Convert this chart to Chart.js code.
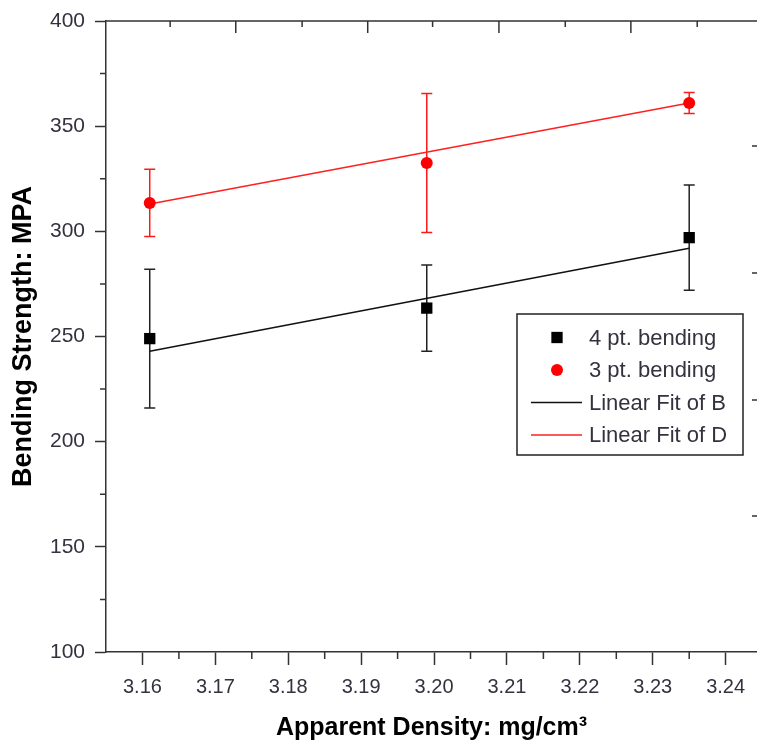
<!DOCTYPE html>
<html>
<head>
<meta charset="utf-8">
<script src="https://cdn.jsdelivr.net/npm/chart.js@4.4.1/dist/chart.umd.min.js"></script>
<style>
  html, body { margin: 0; padding: 0; background: #fff; }
  #wrap { width: 757px; height: 755px; }
</style>
</head>
<body>
<div id="wrap"><canvas id="chart" width="757" height="755"></canvas></div>
<script>
var densities = [3.161, 3.199, 3.235];
var strength4pt = [249, 263.5, 297];
var error4pt = [33, 20.5, 25];
var strength3pt = [313.5, 332.5, 361];
var error3pt = [16, 33, 5];

// ends of the two fit lines
var fitX = [3.161, 3.235];
var fitB = [243, 292];
var fitD = [313, 361];

var xTicks = [3.16, 3.17, 3.18, 3.19, 3.20, 3.21, 3.22, 3.23, 3.24];
var xMinor = [3.155, 3.165, 3.175, 3.185, 3.195, 3.205, 3.215, 3.225, 3.235];
var yTicks = [100, 150, 200, 250, 300, 350, 400];
var yMinor = [125, 175, 225, 275, 325, 375];
// stray ticks on the top and right frame of the original
var topMajor = [3.1728, 3.1909, 3.2089, 3.2270];
var topMinor = [3.1638, 3.1819, 3.1998, 3.2180, 3.2361];
var rightTicks = [340.6, 280.2, 219.8, 164.7];

var axisColor = '#333';
var labelColor = '#35323f';
var fontFam = '"Liberation Sans", Arial, sans-serif';

function xy(xs, ys) {
  return xs.map(function (x, i) { return {x: x, y: ys[i]}; });
}

var extras = {
  id: 'extras',
  beforeDatasetsDraw: function (chart) {
    var ctx = chart.ctx, x = chart.scales.x, y = chart.scales.y;
    var sets = [[strength4pt, error4pt, '#222'], [strength3pt, error3pt, '#ff1a1a']];
    ctx.save();
    ctx.lineWidth = 1.5;
    sets.forEach(function (s) {
      ctx.strokeStyle = s[2];
      densities.forEach(function (d, i) {
        var px = x.getPixelForValue(d);
        var top = y.getPixelForValue(s[0][i] + s[1][i]);
        var bot = y.getPixelForValue(s[0][i] - s[1][i]);
        ctx.beginPath();
        ctx.moveTo(px, top); ctx.lineTo(px, bot);
        ctx.moveTo(px - 5.5, top); ctx.lineTo(px + 5.5, top);
        ctx.moveTo(px - 5.5, bot); ctx.lineTo(px + 5.5, bot);
        ctx.stroke();
      });
    });
    ctx.restore();
  },
  afterDraw: function (chart) {
    var ctx = chart.ctx, a = chart.chartArea, x = chart.scales.x, y = chart.scales.y;
    ctx.save();
    ctx.strokeStyle = axisColor;
    ctx.lineWidth = 1.5;
    ctx.beginPath();
    // top frame
    ctx.moveTo(a.left, a.top); ctx.lineTo(a.right, a.top);
    xMinor.forEach(function (v) {
      var px = x.getPixelForValue(v);
      if (px >= a.left + 1 && px <= a.right) { ctx.moveTo(px, a.bottom); ctx.lineTo(px, a.bottom + 7); }
    });
    yMinor.forEach(function (v) {
      var py = y.getPixelForValue(v);
      ctx.moveTo(a.left, py); ctx.lineTo(a.left - 6, py);
    });
    topMajor.forEach(function (v) {
      var px = x.getPixelForValue(v);
      ctx.moveTo(px, a.top); ctx.lineTo(px, a.top + 12);
    });
    topMinor.forEach(function (v) {
      var px = x.getPixelForValue(v);
      ctx.moveTo(px, a.top); ctx.lineTo(px, a.top + 6);
    });
    rightTicks.forEach(function (v) {
      var py = y.getPixelForValue(v);
      ctx.moveTo(a.right, py); ctx.lineTo(a.right - 5, py);
    });
    ctx.stroke();

    // legend box inside the plot
    var lx = a.left + 411, ly = a.top + 293, lw = 226, lh = 141;
    ctx.strokeStyle = '#222';
    ctx.strokeRect(lx, ly, lw, lh);
    ctx.font = '22px ' + fontFam;
    ctx.textBaseline = 'middle';
    ctx.textAlign = 'left';
    chart.data.datasets.forEach(function (ds, i) {
      var ry = ly + 23.5 + i * 32.5;
      if (ds.showLine === false) {
        ctx.fillStyle = ds.backgroundColor;
        ctx.strokeStyle = ds.backgroundColor;
        Chart.helpers.drawPoint(ctx, {
          pointStyle: ds.pointStyle, radius: ds.pointRadius, borderWidth: 0
        }, lx + 40, ry);
      } else {
        ctx.strokeStyle = ds.borderColor;
        ctx.lineWidth = 1.5;
        ctx.beginPath();
        ctx.moveTo(lx + 14, ry); ctx.lineTo(lx + 65, ry);
        ctx.stroke();
      }
      ctx.fillStyle = labelColor;
      ctx.fillText(ds.label, lx + 72, ry + 1);
    });
    ctx.restore();
  }
};

new Chart(document.getElementById('chart'), {
  type: 'scatter',
  data: {
    datasets: [{
      label: '4 pt. bending',
      data: xy(densities, strength4pt),
      showLine: false,
      pointStyle: 'rect',
      pointRadius: 8,
      backgroundColor: '#000',
      borderColor: '#000',
      borderWidth: 0
    }, {
      label: '3 pt. bending',
      data: xy(densities, strength3pt),
      showLine: false,
      pointStyle: 'circle',
      pointRadius: 6,
      backgroundColor: '#ff0000',
      borderColor: '#ff0000',
      borderWidth: 0
    }, {
      label: 'Linear Fit of B',
      data: xy(fitX, fitB),
      showLine: true,
      pointRadius: 0,
      borderColor: '#111',
      borderWidth: 1.5
    }, {
      label: 'Linear Fit of D',
      data: xy(fitX, fitD),
      showLine: true,
      pointRadius: 0,
      borderColor: '#ff2020',
      borderWidth: 1.5
    }]
  },
  options: {
    responsive: false,
    animation: false,
    devicePixelRatio: 1,
    layout: { autoPadding: false, padding: { top: 21, right: 0, bottom: 0, left: 0 } },
    plugins: {
      legend: { display: false },
      tooltip: { enabled: false }
    },
    scales: {
      x: {
        type: 'linear',
        position: 'bottom',
        min: 3.155,
        max: 3.2443,
        afterBuildTicks: function (s) { s.ticks = xTicks.map(function (v) { return {value: v}; }); },
        afterFit: function (s) { s.height = 103; s.paddingLeft = 0; s.paddingRight = 0; },
        ticks: {
          callback: function (v) { return v.toFixed(2); },
          font: { family: fontFam, size: 20 },
          color: labelColor,
          padding: 10,
          maxRotation: 0
        },
        grid: {
          drawOnChartArea: false,
          tickLength: 13,
          tickWidth: 1.5,
          tickColor: axisColor
        },
        border: { display: true, color: axisColor, width: 1.5 },
        title: {
          display: true,
          text: 'Apparent Density: mg/cm³',
          font: { family: fontFam, size: 25, weight: 'bold' },
          color: '#000',
          padding: { top: 0, bottom: 12 }
        }
      },
      y: {
        type: 'linear',
        min: 100,
        max: 400,
        afterBuildTicks: function (s) { s.ticks = yTicks.map(function (v) { return {value: v}; }); },
        afterFit: function (s) { s.width = 106; s.paddingTop = 0; s.paddingBottom = 0; },
        ticks: {
          font: { family: fontFam, size: 21 },
          color: labelColor,
          padding: 10
        },
        grid: {
          drawOnChartArea: false,
          tickLength: 11,
          tickWidth: 1.5,
          tickColor: axisColor
        },
        border: { display: true, color: axisColor, width: 1.5 },
        title: {
          display: true,
          text: 'Bending Strength: MPA',
          font: { family: fontFam, size: 27, weight: 'bold' },
          color: '#000',
          padding: { top: 7, bottom: 0 }
        }
      }
    }
  },
  plugins: [extras]
});
</script>
</body>
</html>
